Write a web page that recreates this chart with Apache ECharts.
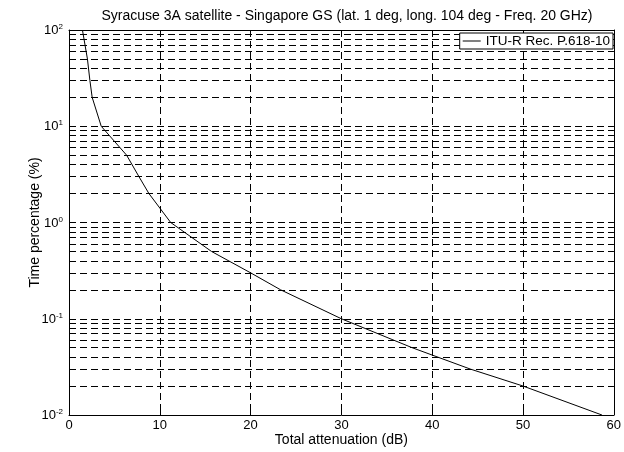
<!DOCTYPE html>
<html>
<head>
<meta charset="utf-8">
<script src="https://cdn.jsdelivr.net/npm/echarts@6/dist/echarts.min.js"></script>
<style>html,body{margin:0;padding:0;background:#fff}#c{width:624px;height:452px}</style>
</head>
<body>
<div id="c"></div>
<script>
// Data
const timePercent = [100, 50, 30, 20, 10, 5, 3, 2, 1, 0.5, 0.3, 0.2, 0.1, 0.05, 0.03, 0.02, 0.01];
const attenuationDb = [1.48, 2.03, 2.3, 2.55, 3.55, 6.35, 7.7, 8.8, 11.2, 15.7, 20.0, 23.3, 30.0, 37.8, 44.2, 50.0, 58.7];
const seriesName = 'ITU-R Rec. P.618-10';
const titleText = 'Syracuse 3A satellite - Singapore GS (lat. 1 deg, long. 104 deg - Freq. 20 GHz)';
const xTicks = [0, 10, 20, 30, 40, 50, 60];
const yMinorTicks = [0.02,0.03,0.04,0.05,0.06,0.07,0.08,0.09,
  0.2,0.3,0.4,0.5,0.6,0.7,0.8,0.9,
  2,3,4,5,6,7,8,9,
  20,30,40,50,60,70,80,90];

const FONT = '"Liberation Sans", Arial, Helvetica, sans-serif';
const FS = 13;
const dash = [7, 4];
const points = timePercent.map((p, i) => [attenuationDb[i], p]);

const minorGrid = yMinorTicks.map(v => ({ yAxis: v }));
const tickLenDb = 0.33;
const minorTicks = [];
yMinorTicks.forEach(v => {
  minorTicks.push([{ coord: [0, v] }, { coord: [tickLenDb, v] }]);
  minorTicks.push([{ coord: [60 - tickLenDb, v] }, { coord: [60, v] }]);
});

const chart = echarts.init(document.getElementById('c'), null, { renderer: 'canvas' });
chart.setOption({
  animation: false,
  backgroundColor: '#fff',
  textStyle: { fontFamily: FONT },
  title: {
    text: titleText,
    left: 342, top: 4, textAlign: 'center',
    textStyle: { fontFamily: FONT, fontSize: 14, fontWeight: 'normal', color: '#000' }
  },
  legend: {
    data: [seriesName],
    right: 11, top: 33, z: 100, zlevel: 0,
    icon: 'rect',
    backgroundColor: '#fff',
    borderColor: '#000', borderWidth: 1, borderRadius: 0,
    padding: [1, 3, 1, 3],
    itemWidth: 18, itemHeight: 1, itemGap: 0,
    itemStyle: { color: '#000' },
    textStyle: { fontFamily: FONT, fontSize: 13.5, color: '#000' }
  },
  grid: { left: 69, right: 9, top: 30, bottom: 31, containLabel: false },
  xAxis: [{
    type: 'value', min: 0, max: 60, interval: 10,
    name: 'Total attenuation (dB)', nameLocation: 'middle', nameGap: 18, nameMoveOverlap: false,
    nameTextStyle: { fontFamily: FONT, fontSize: 14, color: '#000' },
    axisLine: { show: true, onZero: false, lineStyle: { color: '#000', width: 1 } },
    axisTick: { show: true, inside: true, length: 5, lineStyle: { color: '#000' } },
    axisLabel: { fontFamily: FONT, fontSize: FS, color: '#000', margin: 4 },
    splitLine: { show: true, lineStyle: { color: '#000', type: dash, width: 1 } }
  }, {
    type: 'value', min: 0, max: 60, interval: 10, position: 'top',
    axisLine: { show: true, onZero: false, lineStyle: { color: '#000', width: 1 } },
    axisTick: { show: true, inside: true, length: 5, lineStyle: { color: '#000' } },
    axisLabel: { show: false },
    splitLine: { show: false }
  }],
  yAxis: [{
    type: 'log', logBase: 10, min: 0.01, max: 100,
    name: 'Time percentage (%)', nameLocation: 'middle', nameGap: 27, nameMoveOverlap: false,
    nameTextStyle: { fontFamily: FONT, fontSize: 14, color: '#000' },
    axisLine: { show: true, onZero: false, lineStyle: { color: '#000', width: 1 } },
    axisTick: { show: true, inside: true, length: 5, lineStyle: { color: '#000' } },
    axisLabel: {
      margin: 6,
      formatter: v => '{b|10}{s|' + Math.round(Math.log10(v)) + '}',
      rich: {
        b: { fontFamily: FONT, fontSize: FS, color: '#000', verticalAlign: 'bottom', lineHeight: 14 },
        s: { fontFamily: FONT, fontSize: 8, color: '#000', verticalAlign: 'top', lineHeight: 14, padding: [0, 0, 8, 0] }
      }
    },
    splitLine: { show: true, lineStyle: { color: '#000', type: dash, width: 1 } }
  }, {
    type: 'log', logBase: 10, min: 0.01, max: 100, position: 'right',
    axisLine: { show: true, onZero: false, lineStyle: { color: '#000', width: 1 } },
    axisTick: { show: true, inside: true, length: 5, lineStyle: { color: '#000' } },
    axisLabel: { show: false },
    splitLine: { show: false }
  }],
  series: [{
    name: seriesName,
    type: 'line',
    data: points,
    showSymbol: false, symbol: 'none',
    lineStyle: { color: '#000', width: 1 },
    itemStyle: { color: '#000' },
    z: 5
  }, {
    name: 'minorGrid',
    type: 'line', data: [], silent: true, z: 1,
    markLine: {
      silent: true, animation: false, symbol: ['none', 'none'],
      label: { show: false },
      lineStyle: { color: '#000', type: dash, width: 1 },
      data: minorGrid
    }
  }, {
    name: 'minorTicks',
    type: 'line', data: [], silent: true, z: 1,
    markLine: {
      silent: true, animation: false, symbol: ['none', 'none'],
      label: { show: false },
      lineStyle: { color: '#000', type: 'solid', width: 1 },
      data: minorTicks
    }
  }]
});
</script>
</body>
</html>
